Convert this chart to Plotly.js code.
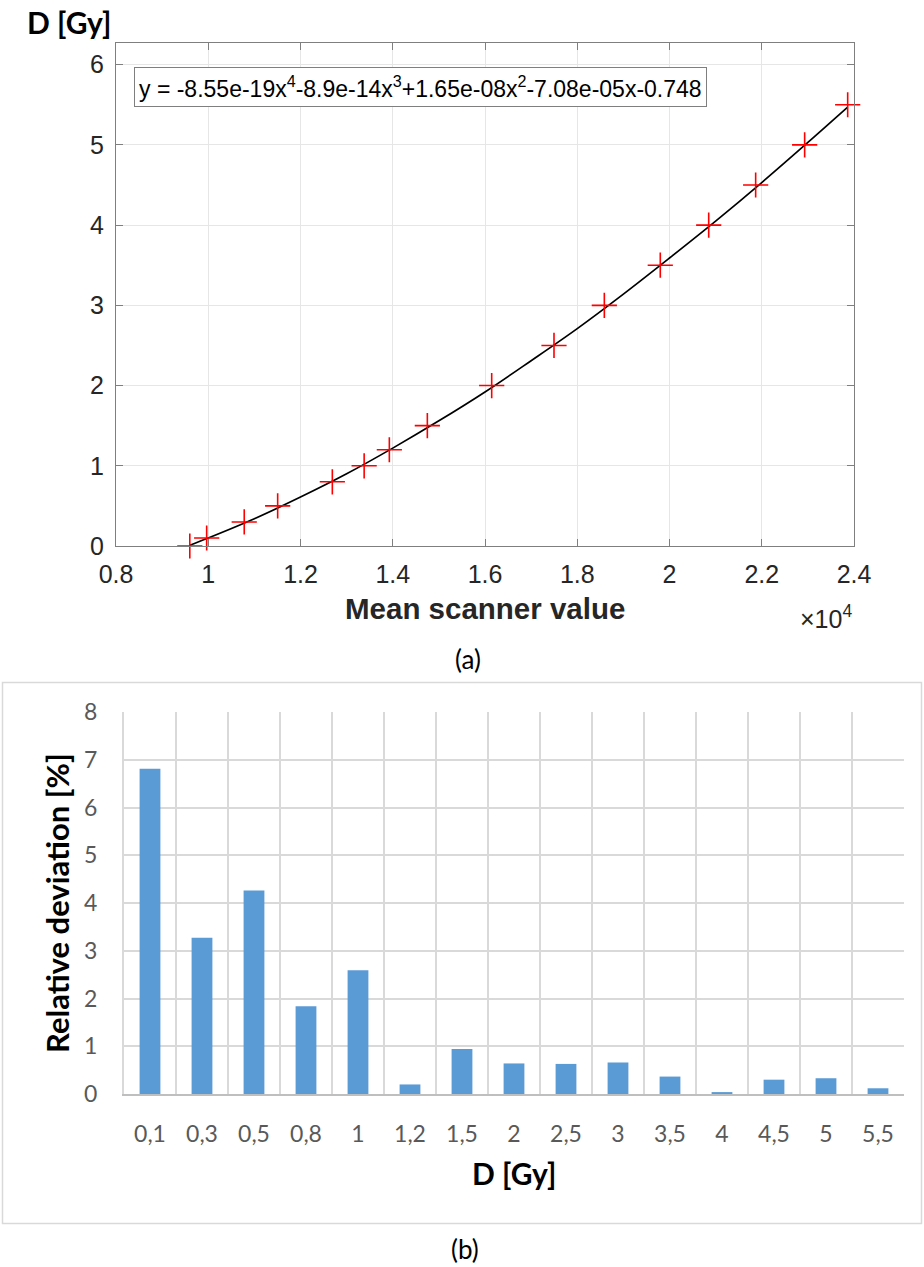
<!DOCTYPE html>
<html>
<head>
<meta charset="utf-8">
<script src="https://cdn.plot.ly/plotly-3.0.1.min.js"></script>
<style>
html,body{margin:0;padding:0;background:#fff;}
#chart{width:924px;height:1267px;}
</style>
</head>
<body>
<div id="chart"></div>
<script>
// ---- Data (a): calibration measurements ----
const scannerValues = [9600, 9966, 10780, 11505, 12690, 13380, 13926, 14750, 16145, 17496, 18587, 19800, 20850, 21868, 22930, 23863];
const doseValues    = [0, 0.1, 0.3, 0.5, 0.8, 1, 1.2, 1.5, 2, 2.5, 3, 3.5, 4, 4.5, 5, 5.5];
// fitted curve
const fitCurveX = [9600, 10000, 11000, 12000, 13000, 14000, 15000, 16000, 17000, 18000, 19000, 20000, 21000, 22000, 23000, 23863];
const fitCurveY = [0.01, 0.10, 0.34, 0.61, 0.90, 1.22, 1.56, 1.92, 2.31, 2.71, 3.14, 3.59, 4.05, 4.53, 5.03, 5.47];
const xTickVals  = [8000, 10000, 12000, 14000, 16000, 18000, 20000, 22000, 24000];
const xTickText  = ['0.8', '1', '1.2', '1.4', '1.6', '1.8', '2', '2.2', '2.4'];
const yTickVals  = [0, 1, 2, 3, 4, 5, 6];
const fitEquation = 'y = -8.55e-19x<sup>4</sup>-8.9e-14x<sup>3</sup>+1.65e-08x<sup>2</sup>-7.08e-05x-0.748';

// ---- Data (b): relative deviation ----
const doseCategories = ['0,1','0,3','0,5','0,8','1','1,2','1,5','2','2,5','3','3,5','4','4,5','5','5,5'];
const relDeviation   = [6.81, 3.27, 4.26, 1.84, 2.59, 0.20, 0.94, 0.64, 0.63, 0.66, 0.365, 0.04, 0.30, 0.33, 0.12];
const y2TickVals = [0, 1, 2, 3, 4, 5, 6, 7, 8];

// ---- helpers for paper positions ----
const W = 924, H = 1267;
const px = x => x / W;
const py = y => 1 - y / H;

const ARIAL = 'Liberation Sans, Arial, sans-serif';
const CALIBRI = 'Lato, Carlito, Calibri, sans-serif';

const traces = [
  {
    type: 'scatter',
    mode: 'lines',
    x: fitCurveX,
    y: fitCurveY,
    xaxis: 'x', yaxis: 'y',
    line: {color: '#000000', width: 1.7, shape: 'spline', smoothing: 1},
    hoverinfo: 'skip',
    showlegend: false
  },
  {
    type: 'scatter',
    mode: 'markers',
    x: scannerValues,
    y: doseValues,
    xaxis: 'x', yaxis: 'y',
    cliponaxis: false,
    marker: {symbol: 'cross-thin', size: 18, color: '#ff0000', line: {color: '#ff0000', width: 1.6}},
    hoverinfo: 'x+y',
    showlegend: false
  },
  {
    type: 'bar',
    x: doseCategories,
    y: relDeviation,
    xaxis: 'x2', yaxis: 'y2',
    marker: {color: '#5b9bd5'},
    showlegend: false
  }
];

const layout = {
  width: W, height: H,
  margin: {l: 0, r: 0, t: 0, b: 0},
  paper_bgcolor: '#ffffff',
  plot_bgcolor: 'rgba(0,0,0,0)',
  showlegend: false,
  bargap: 0.6,
  xaxis: {
    domain: [px(116), px(854)],
    anchor: 'y',
    range: [8000, 24000],
    tickmode: 'array', tickvals: xTickVals, ticktext: xTickText,
    ticks: 'inside', ticklen: 7, tickcolor: '#7f7f7f', tickwidth: 1,
    showline: true, linecolor: '#7f7f7f', linewidth: 1, mirror: 'ticks',
    showgrid: true, gridcolor: '#e6e6e6', gridwidth: 1,
    zeroline: false,
    tickfont: {family: ARIAL, size: 25, color: '#262626'},
    ticklabelstandoff: 6
  },
  yaxis: {
    domain: [py(546), py(43)],
    anchor: 'x',
    range: [0, 6.27],
    tickmode: 'array', tickvals: yTickVals,
    ticks: 'inside', ticklen: 7, tickcolor: '#7f7f7f', tickwidth: 1,
    showline: true, linecolor: '#7f7f7f', linewidth: 1, mirror: 'ticks',
    showgrid: true, gridcolor: '#e6e6e6', gridwidth: 1,
    zeroline: false,
    tickfont: {family: ARIAL, size: 25, color: '#262626'},
    ticklabelstandoff: 6
  },
  xaxis2: {
    domain: [px(124), px(904)],
    anchor: 'y2',
    type: 'category',
    tickson: 'boundaries',
    ticks: '',
    showline: true, linecolor: '#bfbfbf', linewidth: 2,
    showgrid: true, gridcolor: '#d9d9d9', gridwidth: 2,
    tickfont: {family: CALIBRI, size: 23, color: '#595959'},
    ticklabelstandoff: 18
  },
  yaxis2: {
    domain: [py(1094), py(712)],
    anchor: 'x2',
    range: [0, 8],
    tickmode: 'array', tickvals: y2TickVals,
    ticks: '',
    showline: true, linecolor: '#d9d9d9', linewidth: 2,
    showgrid: true, gridcolor: '#d9d9d9', gridwidth: 2,
    zeroline: false,
    tickfont: {family: CALIBRI, size: 23, color: '#595959'},
    ticklabelstandoff: 20
  },
  shapes: [
    {type: 'rect', xref: 'paper', yref: 'paper',
     x0: px(2.5), x1: px(921.5), y0: py(1223.5), y1: py(682.5),
     line: {color: '#d9d9d9', width: 1.5}, fillcolor: 'rgba(0,0,0,0)'}
  ],
  annotations: [
    {xref: 'paper', yref: 'paper', x: px(69), y: py(22), xanchor: 'center', yanchor: 'middle',
     text: '<b>D [Gy]</b>', showarrow: false, font: {family: CALIBRI, size: 30, color: '#000000'}},
    {xref: 'paper', yref: 'paper', x: px(134), y: py(87), xanchor: 'left', yanchor: 'middle',
     text: fitEquation, showarrow: false, font: {family: ARIAL, size: 23, color: '#000000'},
     bgcolor: '#ffffff', bordercolor: '#7f7f7f', borderwidth: 1, borderpad: 4},
    {xref: 'paper', yref: 'paper', x: px(485), y: py(608), xanchor: 'center', yanchor: 'middle',
     text: '<b>Mean scanner value</b>', showarrow: false, font: {family: ARIAL, size: 29.5, color: '#262626'}},
    {xref: 'paper', yref: 'paper', x: px(854), y: py(617), xanchor: 'right', yanchor: 'middle',
     text: '×10<sup>4</sup>', showarrow: false, font: {family: ARIAL, size: 25, color: '#262626'}},
    {xref: 'paper', yref: 'paper', x: px(468), y: py(659), xanchor: 'center', yanchor: 'middle',
     text: '(a)', showarrow: false, font: {family: CALIBRI, size: 26, color: '#000000'}},
    {xref: 'paper', yref: 'paper', x: px(57), y: py(903), xanchor: 'center', yanchor: 'middle',
     text: '<b>Relative deviation [%]</b>', textangle: -90, showarrow: false,
     font: {family: CALIBRI, size: 31, color: '#000000'}},
    {xref: 'paper', yref: 'paper', x: px(514), y: py(1173), xanchor: 'center', yanchor: 'middle',
     text: '<b>D [Gy]</b>', showarrow: false, font: {family: CALIBRI, size: 30, color: '#000000'}},
    {xref: 'paper', yref: 'paper', x: px(465), y: py(1249), xanchor: 'center', yanchor: 'middle',
     text: '(b)', showarrow: false, font: {family: CALIBRI, size: 26, color: '#000000'}}
  ]
};

Plotly.newPlot('chart', traces, layout, {displayModeBar: false, staticPlot: true});
</script>
</body>
</html>
